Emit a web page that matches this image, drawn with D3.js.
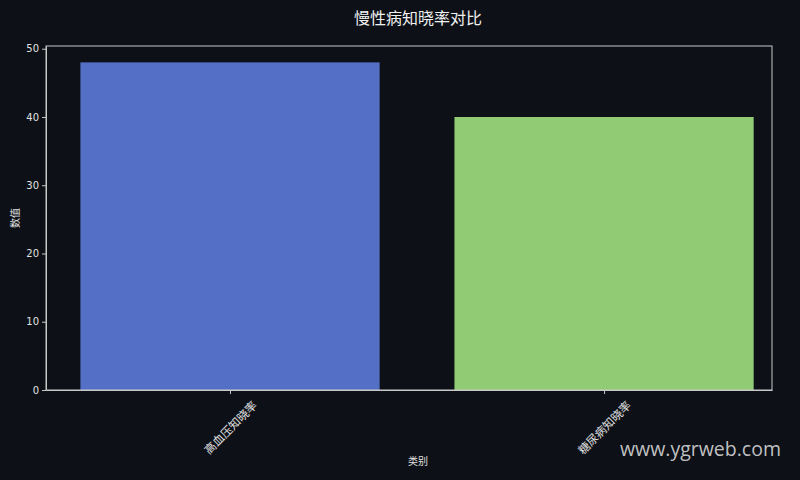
<!DOCTYPE html>
<html><head><meta charset="utf-8">
<script src="https://cdn.jsdelivr.net/npm/d3@7"></script>
<style>
html,body{margin:0;padding:0;background:#0d1017;}
svg{display:block;}
</style></head>
<body>
<script>
const categories = ["高血压知晓率", "糖尿病知晓率"];
const values = [48, 40];
const colors = ["#5470c6", "#91cc75"];
const yTicks = [0, 10, 20, 30, 40, 50];
const title = "慢性病知晓率对比";
const xLabel = "类别";
const yLabel = "数值";

const W = 800, H = 480;
const m = {left: 46, right: 28, top: 46, bottom: 90};
const svg = d3.select("body").append("svg").attr("width", W).attr("height", H);
svg.append("rect").attr("width", W).attr("height", H).attr("fill", "#0d1017");

const x = d3.scaleLinear().domain([-0.492, 1.449]).range([m.left, W - m.right]);
const y = d3.scaleLinear().domain([0, 50.4]).range([H - m.bottom, m.top]);
const bw = 0.8;
const font = "'Noto Sans CJK SC', 'DejaVu Sans', sans-serif";

svg.selectAll("rect.bar").data(values).enter().append("rect")
  .attr("class", "bar")
  .attr("x", (d, i) => x(i - bw / 2))
  .attr("width", (d, i) => x(i + bw / 2) - x(i - bw / 2))
  .attr("y", d => y(d))
  .attr("height", d => y(0) - y(d))
  .attr("fill", (d, i) => colors[i]);

// frame
svg.append("rect")
  .attr("x", m.left).attr("y", m.top)
  .attr("width", W - m.right - m.left).attr("height", H - m.bottom - m.top)
  .attr("fill", "none").attr("stroke", "#c8c8c8").attr("stroke-width", 1);

// y axis
const ya = svg.append("g").attr("transform", `translate(${m.left},0)`)
  .call(d3.axisLeft(y).tickValues(yTicks).tickSize(4).tickSizeOuter(0).tickPadding(3));
ya.select(".domain").attr("stroke", "#c8c8c8");
ya.selectAll(".tick line").attr("stroke", "#c8c8c8");
ya.selectAll(".tick text").attr("fill", "#e0e0e0").style("font-family", "'DejaVu Sans', sans-serif").style("font-size", "10px");

// x axis
const xa = svg.append("g").attr("transform", `translate(0,${H - m.bottom})`)
  .call(d3.axisBottom(x).tickValues([0, 1]).tickSize(4).tickSizeOuter(0).tickFormat(""));
xa.select(".domain").attr("stroke", "#c8c8c8");
xa.selectAll(".tick line").attr("stroke", "#c8c8c8");

svg.selectAll("text.xl").data(categories).enter().append("text")
  .attr("class", "xl")
  .attr("transform", (d, i) => `translate(${x(i)},${H - m.bottom + 37}) rotate(-45)`)
  .attr("text-anchor", "middle").attr("dominant-baseline", "central")
  .attr("fill", "#e0e0e0").style("font-family", font).style("font-size", "11.5px")
  .text(d => d);

svg.append("text").attr("x", 418).attr("y", 24).attr("text-anchor", "middle")
  .attr("fill", "#f0f0f0").style("font-family", font).style("font-size", "16px").text(title);
svg.append("text").attr("x", 418).attr("y", 465).attr("text-anchor", "middle")
  .attr("fill", "#e0e0e0").style("font-family", font).style("font-size", "10px").text(xLabel);
svg.append("text").attr("transform", "translate(19,218) rotate(-90)").attr("text-anchor", "middle")
  .attr("fill", "#e0e0e0").style("font-family", font).style("font-size", "10px").text(yLabel);

svg.append("text").attr("x", 781).attr("y", 456).attr("text-anchor", "end")
  .attr("fill", "#d8d8d8").attr("fill-opacity", 0.9).style("font-family", "'Open Sans', 'Noto Sans', sans-serif").style("font-size", "19.5px").text("www.ygrweb.com");
</script>
</body></html>
